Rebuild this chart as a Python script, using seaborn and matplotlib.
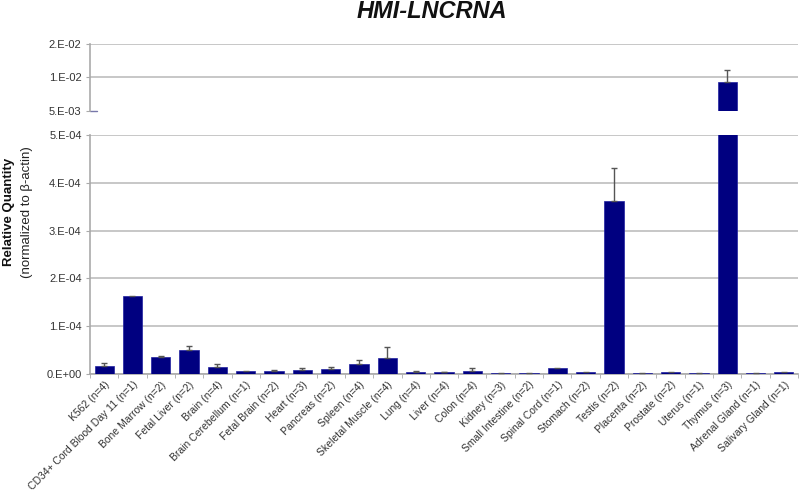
import matplotlib
matplotlib.use('Agg')

import numpy as np
import pandas as pd
import matplotlib.pyplot as plt
import seaborn as sns

# tissues and relative quantity (normalized to beta-actin)
tissues = ['K562 (n=4)', 'CD34+ Cord Blood Day 11 (n=1)', 'Bone Marrow (n=2)',
           'Fetal Liver (n=2)', 'Brain (n=4)', 'Brain Cerebellum (n=1)',
           'Fetal Brain (n=2)', 'Heart (n=3)', 'Pancreas (n=2)', 'Spleen (n=4)',
           'Skeletal Muscle (n=4)', 'Lung (n=4)', 'Liver (n=4)', 'Colon (n=4)',
           'Kidney (n=3)', 'Small Intestine (n=2)', 'Spinal Cord (n=1)',
           'Stomach (n=2)', 'Testis (n=2)', 'Placenta (n=2)', 'Prostate (n=2)',
           'Uterus (n=1)', 'Thymus (n=3)', 'Adrenal Gland (n=1)', 'Salivary Gland (n=1)']
values = [1.7e-5, 1.64e-4, 3.5e-5, 5.1e-5, 1.5e-5, 7e-6, 7e-6, 9e-6, 1.0e-5, 2.1e-5,
          3.3e-5, 3.5e-6, 3.5e-6, 7e-6, 2e-6, 2e-6, 1.25e-5, 3.5e-6, 3.61e-4, 3e-6,
          3.5e-6, 2e-6, 9.2e-3, 2e-6, 5e-6]
# top of the (one sided) error bar, nan where none is drawn
err_top = [2.3e-5, np.nan, 3.7e-5, 5.8e-5, 2.1e-5, np.nan, 8e-6, 1.25e-5, 1.4e-5, 3.0e-5,
           5.6e-5, 5.5e-6, 5e-6, 1.2e-5, np.nan, np.nan, np.nan, np.nan, 4.30e-4, np.nan,
           np.nan, np.nan, 1.16e-2, np.nan, np.nan]

low_ticks = [0, 1e-4, 2e-4, 3e-4, 4e-4, 5e-4]
low_labels = ['0.E+00', '1.E-04', '2.E-04', '3.E-04', '4.E-04', '5.E-04']
high_ticks = [5e-3, 1e-2, 2e-2]
high_labels = ['5.E-03', '1.E-02', '2.E-02']

df = pd.DataFrame({'tissue': tissues, 'value': values, 'top': err_top})

sns.set_style('white')
plt.rcParams['font.family'] = ['Liberation Sans', 'DejaVu Sans']

fig = plt.figure(figsize=(8, 4.97), dpi=100)
ax_hi = fig.add_axes([0.1125, 0.7767, 0.885, 0.1348])
ax_lo = fig.add_axes([0.1125, 0.2475, 0.885, 0.481])

bar_col = '#000080'
grid_col = '#bdbdbd'
txt_col = '#333333'

for ax in (ax_hi, ax_lo):
    sns.barplot(data=df, x='tissue', y='value', color=bar_col, saturation=1,
                width=0.68, edgecolor='#2020a0', linewidth=0.5, ax=ax, zorder=3)
    yerr = np.vstack([np.zeros(len(df)), df['top'] - df['value']])
    ax.errorbar(np.arange(len(df)), df['value'], yerr=yerr, fmt='none',
                ecolor='#555555', elinewidth=1, capsize=2.5, capthick=1, zorder=4)
    ax.set_xlim(-0.5, len(df) - 0.5)
    ax.set_xlabel('')
    ax.set_ylabel('')
    ax.yaxis.grid(True, color=grid_col, linewidth=1.2, zorder=0)
    ax.set_axisbelow(True)
    for s in ['top', 'right']:
        ax.spines[s].set_visible(False)
    ax.spines['left'].set_color('#aaaaaa')
    ax.spines['left'].set_linewidth(1.2)
    ax.tick_params(axis='y', left=True, length=3, color='#aaaaaa',
                   labelsize=8, labelcolor=txt_col, pad=3)

# upper (log) part of the broken axis
ax_hi.set_yscale('log')
ax_hi.set_ylim(5e-3, 2e-2)
ax_hi.set_yticks(high_ticks)
ax_hi.set_yticklabels(high_labels)
ax_hi.yaxis.set_minor_locator(matplotlib.ticker.NullLocator())
ax_hi.spines['bottom'].set_visible(False)
ax_hi.set_xticks([])
ax_hi.yaxis.grid(False)
for t in high_ticks[1:]:
    ax_hi.axhline(t, color=grid_col, linewidth=1.2, zorder=0)
ax_hi.plot([0, 0.01], [0, 0], transform=ax_hi.transAxes, color='#7777aa', lw=1, clip_on=False)

# lower (linear) part
ax_lo.set_ylim(0, 5e-4)
ax_lo.set_yticks(low_ticks)
ax_lo.set_yticklabels(low_labels)
ax_lo.spines['bottom'].set_color('#aaaaaa')
ax_lo.spines['bottom'].set_linewidth(1.2)
ax_lo.set_xticks(np.arange(len(df)))
ax_lo.set_xticklabels(tissues, rotation=45, ha='right', rotation_mode='anchor',
                      fontsize=7.5, color=txt_col)
ax_lo.tick_params(axis='x', which='major', length=0, pad=4)
ax_lo.set_xticks(np.arange(len(df) + 1) - 0.5, minor=True)
ax_lo.tick_params(axis='x', which='minor', bottom=True, length=3, color='#aaaaaa')

fig.text(0.54, 1 - 12 / 497, 'HMI-LNCRNA', ha='center', va='center',
         fontsize=17, fontweight='bold', fontstyle='italic', color='#111111')
fig.text(0.011, 0.573, 'Relative Quantity', rotation=90, ha='center', va='center',
         fontsize=9.5, fontweight='bold', color='#111111')
fig.text(0.034, 0.573, '(normalized to β-actin)', rotation=90, ha='center', va='center',
         fontsize=9.5, color='#222222')

fig.savefig('out.png', dpi=100)
